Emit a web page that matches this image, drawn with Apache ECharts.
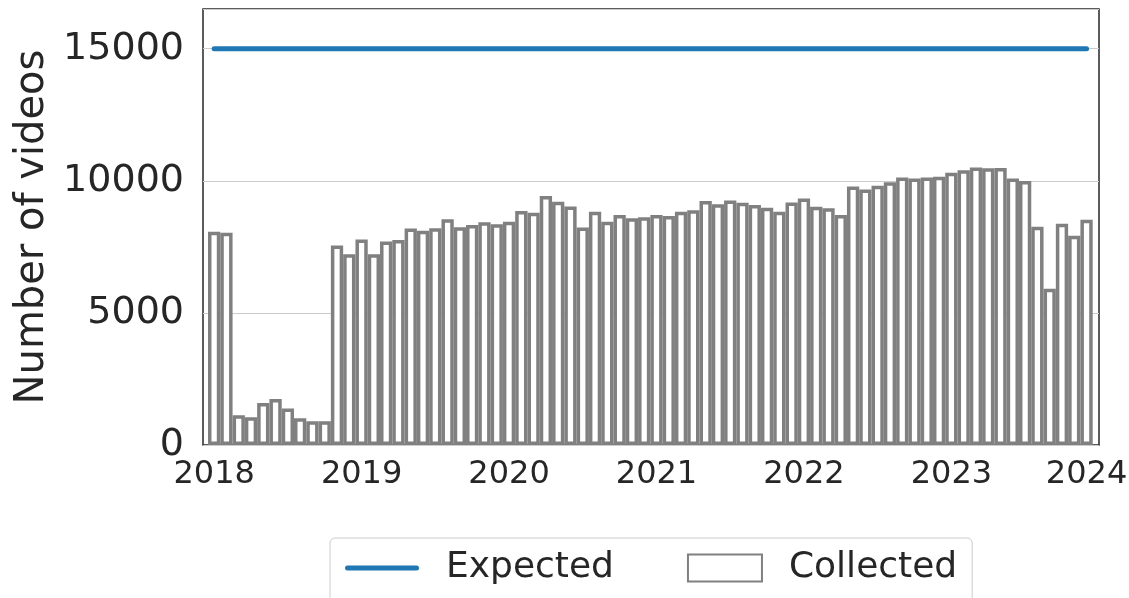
<!DOCTYPE html>
<html>
<head>
<meta charset="utf-8">
<script src="https://cdn.jsdelivr.net/npm/echarts@6/dist/echarts.min.js"></script>
<style>
html,body{margin:0;padding:0;background:#fff;}
#chart{width:1129px;height:598px;}
</style>
</head>
<body>
<div id="chart"></div>
<script>
// ---- data ----
const years = [2018, 2019, 2020, 2021, 2022, 2023];
const monthsPerYear = 12;
const tickLabels = ['2018', '2019', '2020', '2021', '2022', '2023', '2024'];
const tickIndex = [0, 12, 24, 36, 48, 60, 71];
const expectedPerMonth = 15000;
const collected = [
  // 2018
  8070, 8030, 1130, 1050, 1590, 1740, 1380, 1010, 900, 900, 7550, 7220,
  // 2019
  7780, 7220, 7700, 7760, 8190, 8110, 8200, 8540, 8240, 8330, 8430, 8350,
  // 2020
  8450, 8860, 8790, 9420, 9210, 9030, 8230, 8830, 8450, 8700, 8580, 8620,
  // 2021
  8700, 8670, 8830, 8880, 9230, 9110, 9250, 9170, 9080, 8980, 8830, 9180,
  // 2022
  9330, 9020, 8960, 8700, 9780, 9670, 9810, 9940, 10120, 10090, 10120, 10150,
  // 2023
  10300, 10400, 10500, 10470, 10480, 10090, 9990, 8260, 5910, 8370, 7920, 8520
];

const categories = [];
years.forEach(y => {
  for (let m = 1; m <= monthsPerYear; m++) categories.push(y + '-' + String(m).padStart(2, '0'));
});
const expected = categories.map(() => expectedPerMonth);

const FONT = 'DejaVu Sans';
const TXT = '#262626';

const chart = echarts.init(document.getElementById('chart'), null, {renderer: 'canvas'});
chart.setOption({
  animation: false,
  backgroundColor: '#ffffff',
  textStyle: {fontFamily: FONT, color: TXT},
  grid: [
    {left: 203, right: 30, top: 9, bottom: 153, show: true, borderColor: '#262626', borderWidth: 1.5,
     backgroundColor: 'transparent', containLabel: false, outerBoundsMode: 'none'},
    {left: 208, right: 36.3, top: 9, bottom: 153, containLabel: false, outerBoundsMode: 'none'}
  ],
  xAxis: [
    {type: 'value', gridIndex: 0, min: 0, max: 1, show: false},
    {
      type: 'category', gridIndex: 1, data: categories, boundaryGap: true,
      axisLine: {show: false}, axisTick: {show: false}, splitLine: {show: false},
      axisLabel: {
        interval: (idx) => tickIndex.indexOf(idx) >= 0,
        formatter: (val, idx) => tickLabels[tickIndex.indexOf(idx)],
        fontFamily: FONT, fontSize: 32, color: TXT, margin: 14,
        showMinLabel: true, showMaxLabel: true, hideOverlap: false
      }
    }
  ],
  yAxis: [
    {
      type: 'value', gridIndex: 0, min: 0, max: 16500, interval: 5000,
      name: 'Number of videos', nameLocation: 'middle', nameGap: 142,
      nameTextStyle: {fontFamily: FONT, fontSize: 40, color: TXT},
      axisLine: {show: false}, axisTick: {show: false},
      axisLabel: {fontFamily: FONT, fontSize: 38, color: TXT, margin: 19, showMaxLabel: false,
                  formatter: (v) => String(v)},
      splitLine: {show: true, lineStyle: {color: '#cccccc', width: 1}}
    },
    {type: 'value', gridIndex: 1, min: 0, max: 16500, show: false, splitLine: {show: false}}
  ],
  legend: {
    left: 330, top: 538,
    orient: 'horizontal',
    padding: [10, 15, 24, 15],
    itemWidth: 74, itemHeight: 27, itemGap: 73,
    borderColor: '#cccccc', borderWidth: 1, borderRadius: 5,
    backgroundColor: '#ffffff',
    textStyle: {fontFamily: FONT, fontSize: 36, color: TXT, lineHeight: 40, padding: [0, 0, 0, 22]},
    data: [
      {name: 'Expected', icon: 'path://M2.5,0 L71.5,0 A2.5,2.5 0 0 1 71.5,5 L2.5,5 A2.5,2.5 0 0 1 2.5,0 Z',
       itemStyle: {color: '#1f77b4', borderWidth: 0}},
      {name: 'Collected', icon: 'rect'}
    ]
  },
  series: [
    {
      name: 'Collected', type: 'bar', xAxisIndex: 1, yAxisIndex: 1,
      data: collected, barCategoryGap: '0%',
      itemStyle: {color: '#ffffff', borderColor: '#808080', borderWidth: 3.5},
      z: 2
    },
    {
      name: 'Expected', type: 'line', xAxisIndex: 1, yAxisIndex: 1,
      data: expected, symbol: 'none', showSymbol: false,
      lineStyle: {color: '#1f77b4', width: 5, cap: 'round'},
      itemStyle: {color: '#1f77b4'},
      z: 3
    }
  ]
});
</script>
</body>
</html>
